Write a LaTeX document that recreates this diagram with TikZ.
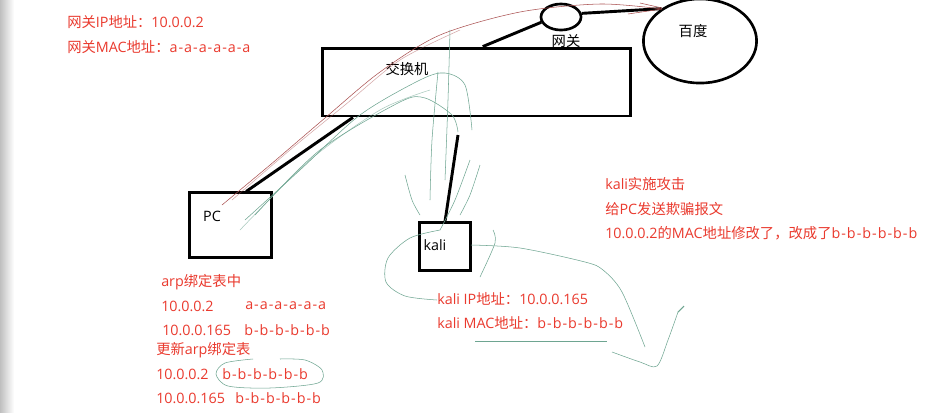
\documentclass[tikz,border=0pt]{standalone}
\usepackage{fontspec}
\setmainfont{Open Sans}
\newfontfamily\cjk{Noto Sans CJK SC}
\newfontfamily\macfont{Open Sans}[LetterSpace=7]
\usetikzlibrary{shapes.geometric}

\definecolor{notered}{RGB}{234,58,46}
\definecolor{penred}{RGB}{170,80,80}
\definecolor{pengreen}{RGB}{110,165,145}

\newcommand{\mac}[1]{{\macfont #1}}

\begin{document}
\begin{tikzpicture}[
    x=0.0265cm, y=-0.0265cm,
    device/.style={
        rectangle,
        draw=black,
        line width=2.2pt,
        inner sep=0pt
    },
    site/.style={
        ellipse,
        draw=black,
        line width=2pt,
        inner sep=0pt
    },
    link/.style={
        line width=2.2pt
    },
    lbl/.style={
        font=\fontsize{10.8}{13}\selectfont,
        inner sep=0pt
    },
    note/.style={
        lbl,
        text=notered,
        anchor=west
    },
    inkg/.style={
        draw=pengreen,
        line width=0.4pt
    },
    inkr/.style={
        draw=penred,
        line width=0.4pt
    }
]

% canvas and left shadow
\useasboundingbox (0,0) rectangle (942,412);
\fill[white] (0,0) rectangle (942,412);
\shade[left color=black!25, right color=white] (0,0) rectangle (14,412);

% devices
\node[device, minimum width=8.16cm, minimum height=1.80cm] (switch) at (476.5,82) {};
\node[device, minimum width=2.15cm, minimum height=1.70cm] (pc) at (230.5,225) {};
\node[device, minimum width=1.33cm, minimum height=1.25cm] (kali) at (445,246.5) {};
\node[site, minimum width=1.06cm, minimum height=0.69cm] (gw) at (561,17) {};
\node[site, minimum width=3.0cm, minimum height=2.23cm] (baidu) at (700,41) {};

\node[lbl] (switchlbl) at (407,69) {\cjk 交换机};
\node[lbl] (pclbl) at (212,216) {PC};
\node[lbl] (kalilbl) at (435,245) {kali};
\node[lbl] (gwlbl) at (566,41) {\cjk 网关};
\node[lbl] (baidulbl) at (693,31) {\cjk 百度};

% links
\coordinate (kalitip) at (458,135);
\draw[link] (pc.65) -- (switch.196);
\draw[link] (kali.north) -- (kalitip);
\draw[link] (switch.80) -- (gw.195);
\draw[link] (gw.10) -- (baidu.140);

% pen traces
\draw[inkr] plot[smooth] coordinates {(222,205) (270,165) (325,118) (380,72) (440,35) (520,12) (600,4) (662,9)};
\draw[inkr, opacity=0.5] plot[smooth] coordinates {(232,200) (290,150) (345,105) (400,60) (460,30)};
\draw[inkr] (628,14) -- (662,9);
\draw[inkr] (640,3) -- (662,8);
\draw[inkg] plot[smooth] coordinates {(245,220) (300,170) (360,115) (420,80) (445,73) (465,85) (472,130)};
\draw[inkg] plot[smooth] coordinates {(255,215) (320,150) (400,102) (425,98) (452,115) (458,132)};
\draw[inkg, opacity=0.6] plot[smooth] coordinates {(240,230) (310,160) (380,110) (430,90)};
\draw[inkg] plot[smooth] coordinates {(450,30) (448,100) (445,180)};
\draw[inkg] plot[smooth] coordinates {(438,72) (432,140) (430,200)};
\draw[inkg] plot[smooth] coordinates {(405,175) (412,200) (420,215)};
\draw[inkg] plot[smooth] coordinates {(470,160) (455,200) (440,230)};
\draw[inkg] plot[smooth] coordinates {(480,165) (470,195) (460,215)};
\draw[inkg] plot[smooth] coordinates {(440,230) (410,238) (388,258) (386,282) (405,296) (437,300)};
\draw[inkg] plot[smooth] coordinates {(493,230) (495,243) (480,277)};
\draw[inkg] plot[smooth] coordinates {(471,245) (520,248) (585,262) (603,270) (622,292) (645,347)};
\draw[inkg] plot[smooth] coordinates {(612,352) (640,362) (657,366) (668,340) (678,312)};
\draw[inkg, line width=0.8pt] (678,312) -- (684,306);
\draw[inkg] (475,341) -- (607,341);
\draw[inkg] plot[smooth] coordinates {(253,359) (225,363) (216,374) (228,386) (270,388) (318,383) (322,370) (305,360) (280,359)};

% notes
\node[note] (gwip) at (67,22) {{\cjk 网关}IP{\cjk 地址：}10.0.0.2};
\node[note] (gwmac) at (67,47.5) {{\cjk 网关}MAC{\cjk 地址：}\mac{a-a-a-a-a-a}};

\node[note] (arptitle) at (161,282) {arp{\cjk 绑定表中}};
\node[note] (arpip1) at (161,306) {10.0.0.2};
\node[note] (arpmac1) at (245,306) {\mac{a-a-a-a-a-a}};
\node[note] (arpip2) at (162,330) {10.0.0.165};
\node[note] (arpmac2) at (244,330) {\mac{b-b-b-b-b-b}};
\node[note] (newtitle) at (156,350) {{\cjk 更新}arp{\cjk 绑定表}};
\node[note] (newip1) at (156,374) {10.0.0.2};
\node[note] (newmac1) at (222,374) {\mac{b-b-b-b-b-b}};
\node[note] (newip2) at (156,398) {10.0.0.165};
\node[note] (newmac2) at (235,398) {\mac{b-b-b-b-b-b}};

\node[note] (kaliip) at (437,299) {kali IP{\cjk 地址：}10.0.0.165};
\node[note] (kalimac) at (437,323) {kali MAC{\cjk 地址：}\mac{b-b-b-b-b-b}};

\node[note] (attack1) at (605,184) {kali{\cjk 实施攻击}};
\node[note] (attack2) at (605,209) {{\cjk 给}PC{\cjk 发送欺骗报文}};
\node[note] (attack3) at (605,233) {10.0.0.2{\cjk 的}MAC{\cjk 地址修改了，改成了}\mac{b-b-b-b-b-b}};

\end{tikzpicture}
\end{document}
